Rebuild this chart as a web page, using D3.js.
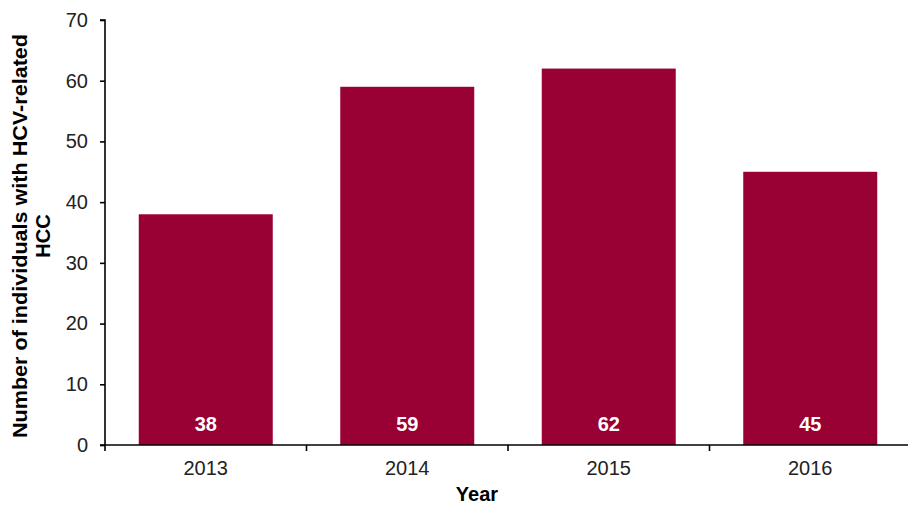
<!DOCTYPE html>
<html><head><meta charset="utf-8">
<script src="https://cdn.jsdelivr.net/npm/d3@7"></script>
<style>body{margin:0;background:#fff}svg{display:block}text{font-family:Arial,"Liberation Sans",sans-serif}</style>
</head><body>
<svg id="c" width="908" height="506"></svg>
<script>
const years = ["2013","2014","2015","2016"];
const counts = [38,59,62,45];
const yTicks = [0,10,20,30,40,50,60,70];

(function(){
const svg = d3.select("#c");
const pL = 105, pR = 911, pT = 20, pB = 445;
const x = d3.scaleBand().domain(years).range([pL,pR]).paddingInner(0.335).paddingOuter(0.1675);
const y = d3.scaleLinear().domain([0,70]).range([pB,pT]);
const ff = "Arial, 'Liberation Sans', sans-serif";

svg.selectAll("rect.bar").data(years).join("rect").attr("class","bar")
  .attr("x",d=>x(d)).attr("width",x.bandwidth())
  .attr("y",(d,i)=>y(counts[i])).attr("height",(d,i)=>y(0)-y(counts[i]))
  .attr("fill","#990033");

svg.selectAll("text.val").data(years).join("text").attr("class","val")
  .attr("x",d=>x(d)+x.bandwidth()/2).attr("y",431)
  .attr("text-anchor","middle").attr("fill","#fff").attr("font-weight","bold").attr("font-size","20px")
  .text((d,i)=>counts[i]);

const ya = svg.append("g").attr("transform",`translate(${pL},0)`)
  .call(d3.axisLeft(y).tickValues(yTicks).tickSize(5).tickPadding(12));
ya.select(".domain").attr("stroke","#000").attr("stroke-width",1.6).attr("d",`M-5,${pT}H0V${pB}`);
ya.selectAll(".tick line").attr("stroke","#000").attr("stroke-width",1.6);
ya.selectAll(".tick text").attr("font-size","20px").attr("fill","#222").style("font-family",ff);

const xa = svg.append("g").attr("transform",`translate(0,${pB})`)
  .call(d3.axisBottom(x).tickSize(0).tickPadding(16));
xa.select(".domain").attr("stroke","#000").attr("stroke-width",1.6).attr("d",`M${pL-5},0H${pR}`);
xa.selectAll(".tick text").attr("font-size","20px").attr("fill","#222").style("font-family",ff);
const bounds = years.map(d=>x(d)-x.step()*x.paddingInner()/2);
xa.selectAll("line.sep").data(bounds).join("line").attr("class","sep")
  .attr("x1",d=>d).attr("x2",d=>d).attr("y1",0).attr("y2",6)
  .attr("stroke","#000").attr("stroke-width",1.6);

svg.append("text").attr("x",477).attr("y",501).attr("text-anchor","middle")
  .attr("font-weight","bold").attr("font-size","20px").attr("fill","#000").text("Year");

const yt = svg.append("text").attr("transform","translate(27,236) rotate(-90)")
  .attr("text-anchor","middle").attr("font-weight","bold").attr("font-size","20px").attr("fill","#000");
yt.append("tspan").attr("x",0).attr("dy",0).attr("textLength",404).attr("lengthAdjust","spacingAndGlyphs").text("Number of individuals with HCV-related");
yt.append("tspan").attr("x",0).attr("dy",23).text("HCC");
})();
</script>
</body></html>
